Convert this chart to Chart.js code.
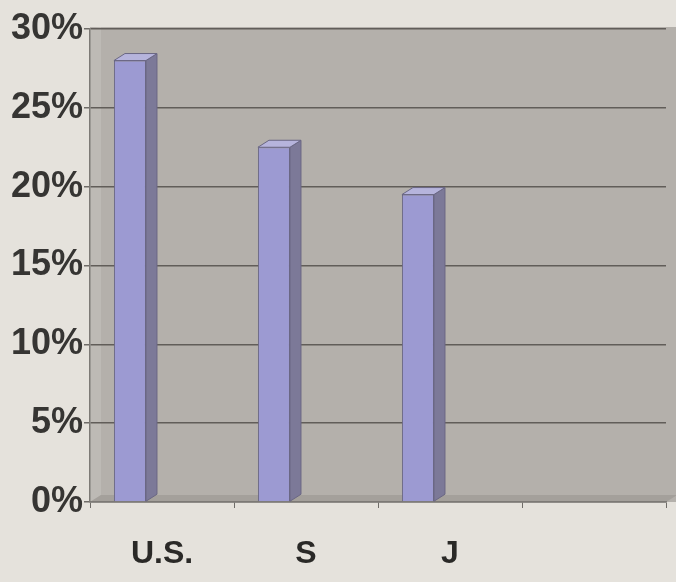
<!DOCTYPE html>
<html>
<head>
<meta charset="utf-8">
<script src="https://cdn.jsdelivr.net/npm/chart.js@4/dist/chart.umd.min.js"></script>
<style>
  html, body { margin: 0; padding: 0; background: #e5e2dc; }
  canvas { display: block; }
</style>
</head>
<body>
<canvas id="chart" width="676" height="582"></canvas>
<script>
// data
const categories = ['U.S.', 'S', 'J', ''];
const shares = [28, 22.5, 19.5, null];
const spacer = [null, null, null, null];   // empty second slot pushes bars left, like the 3D depth
const yTicks = [0, 5, 10, 15, 20, 25, 30];

const DEPTH_X = 11, DEPTH_Y = 7;

// gray walls + floor behind the bars
const walls = {
    id: 'walls',
    beforeDraw(chart) {
        const { ctx, chartArea: a } = chart;
        ctx.save();
        ctx.fillStyle = '#b4b0ab';
        ctx.fillRect(a.left, a.top - 2, a.right - a.left + 10, a.bottom - a.top + 2);
        // left side wall
        ctx.fillStyle = '#bdbab5';
        ctx.beginPath();
        ctx.moveTo(a.left, a.top);
        ctx.lineTo(a.left + DEPTH_X, a.top - 2);
        ctx.lineTo(a.left + DEPTH_X, a.bottom - DEPTH_Y);
        ctx.lineTo(a.left, a.bottom);
        ctx.closePath();
        ctx.fill();
        // floor
        ctx.fillStyle = '#a4a09b';
        ctx.beginPath();
        ctx.moveTo(a.left, a.bottom);
        ctx.lineTo(a.left + DEPTH_X, a.bottom - DEPTH_Y);
        ctx.lineTo(a.right + DEPTH_X, a.bottom - DEPTH_Y);
        ctx.lineTo(a.right, a.bottom);
        ctx.closePath();
        ctx.fill();
        ctx.restore();
    }
};

// side and top faces for each bar, from the bar elements
const bars3d = {
    id: 'bars3d',
    afterDatasetsDraw(chart) {
        const ctx = chart.ctx;
        const meta = chart.getDatasetMeta(0);
        const values = chart.data.datasets[0].data;
        ctx.save();
        ctx.lineWidth = 1;
        ctx.strokeStyle = '#6a6784';
        meta.data.forEach((bar, i) => {
            if (values[i] == null) return;
            const l = bar.x - bar.width / 2, r = bar.x + bar.width / 2;
            const t = bar.y, b = bar.base;
            ctx.fillStyle = '#7c7998';
            ctx.beginPath();
            ctx.moveTo(r, t);
            ctx.lineTo(r + DEPTH_X, t - DEPTH_Y);
            ctx.lineTo(r + DEPTH_X, b - DEPTH_Y);
            ctx.lineTo(r, b);
            ctx.closePath();
            ctx.fill();
            ctx.stroke();
            ctx.fillStyle = '#b6b4dc';
            ctx.beginPath();
            ctx.moveTo(l, t);
            ctx.lineTo(l + DEPTH_X, t - DEPTH_Y);
            ctx.lineTo(r + DEPTH_X, t - DEPTH_Y);
            ctx.lineTo(r, t);
            ctx.closePath();
            ctx.fill();
            ctx.stroke();
        });
        ctx.restore();
    }
};

new Chart(document.getElementById('chart'), {
    type: 'bar',
    data: {
        labels: categories,
        datasets: [
            {
                data: shares,
                backgroundColor: '#9c9ad2',
                borderColor: '#6a6784',
                borderWidth: 1,
                categoryPercentage: 0.89,
                barPercentage: 0.5
            },
            {
                data: spacer,
                categoryPercentage: 0.89,
                barPercentage: 0.5
            }
        ]
    },
    options: {
        responsive: false,
        animation: false,
        layout: { padding: { top: 29, right: 10, left: 0, bottom: 0 } },
        scales: {
            x: {
                grid: {
                    offset: true,
                    drawOnChartArea: false,
                    tickLength: 6,
                    tickColor: '#6f6c68'
                },
                border: { color: '#7d7a76', width: 1.5 },
                ticks: {
                    padding: 27,
                    color: '#2a2927',
                    font: { family: 'Liberation Sans', size: 32, weight: 'bold' }
                },
                afterFit: s => { s.height = 80; }
            },
            y: {
                min: 0,
                max: 30,
                afterBuildTicks: s => { s.ticks = yTicks.map(v => ({ value: v })); },
                grid: {
                    color: '#615d59',
                    lineWidth: 1.5,
                    tickLength: 6,
                    tickColor: '#6f6c68'
                },
                border: { color: '#7d7a76', width: 1.5 },
                ticks: {
                    padding: 1,
                    color: '#363533',
                    font: { family: 'Liberation Sans', size: 36, weight: 'bold' },
                    callback: v => v + '%'
                },
                afterFit: s => { s.width = 90; }
            }
        },
        plugins: {
            legend: { display: false },
            tooltip: { enabled: false }
        }
    },
    plugins: [walls, bars3d]
});
</script>
</body>
</html>
